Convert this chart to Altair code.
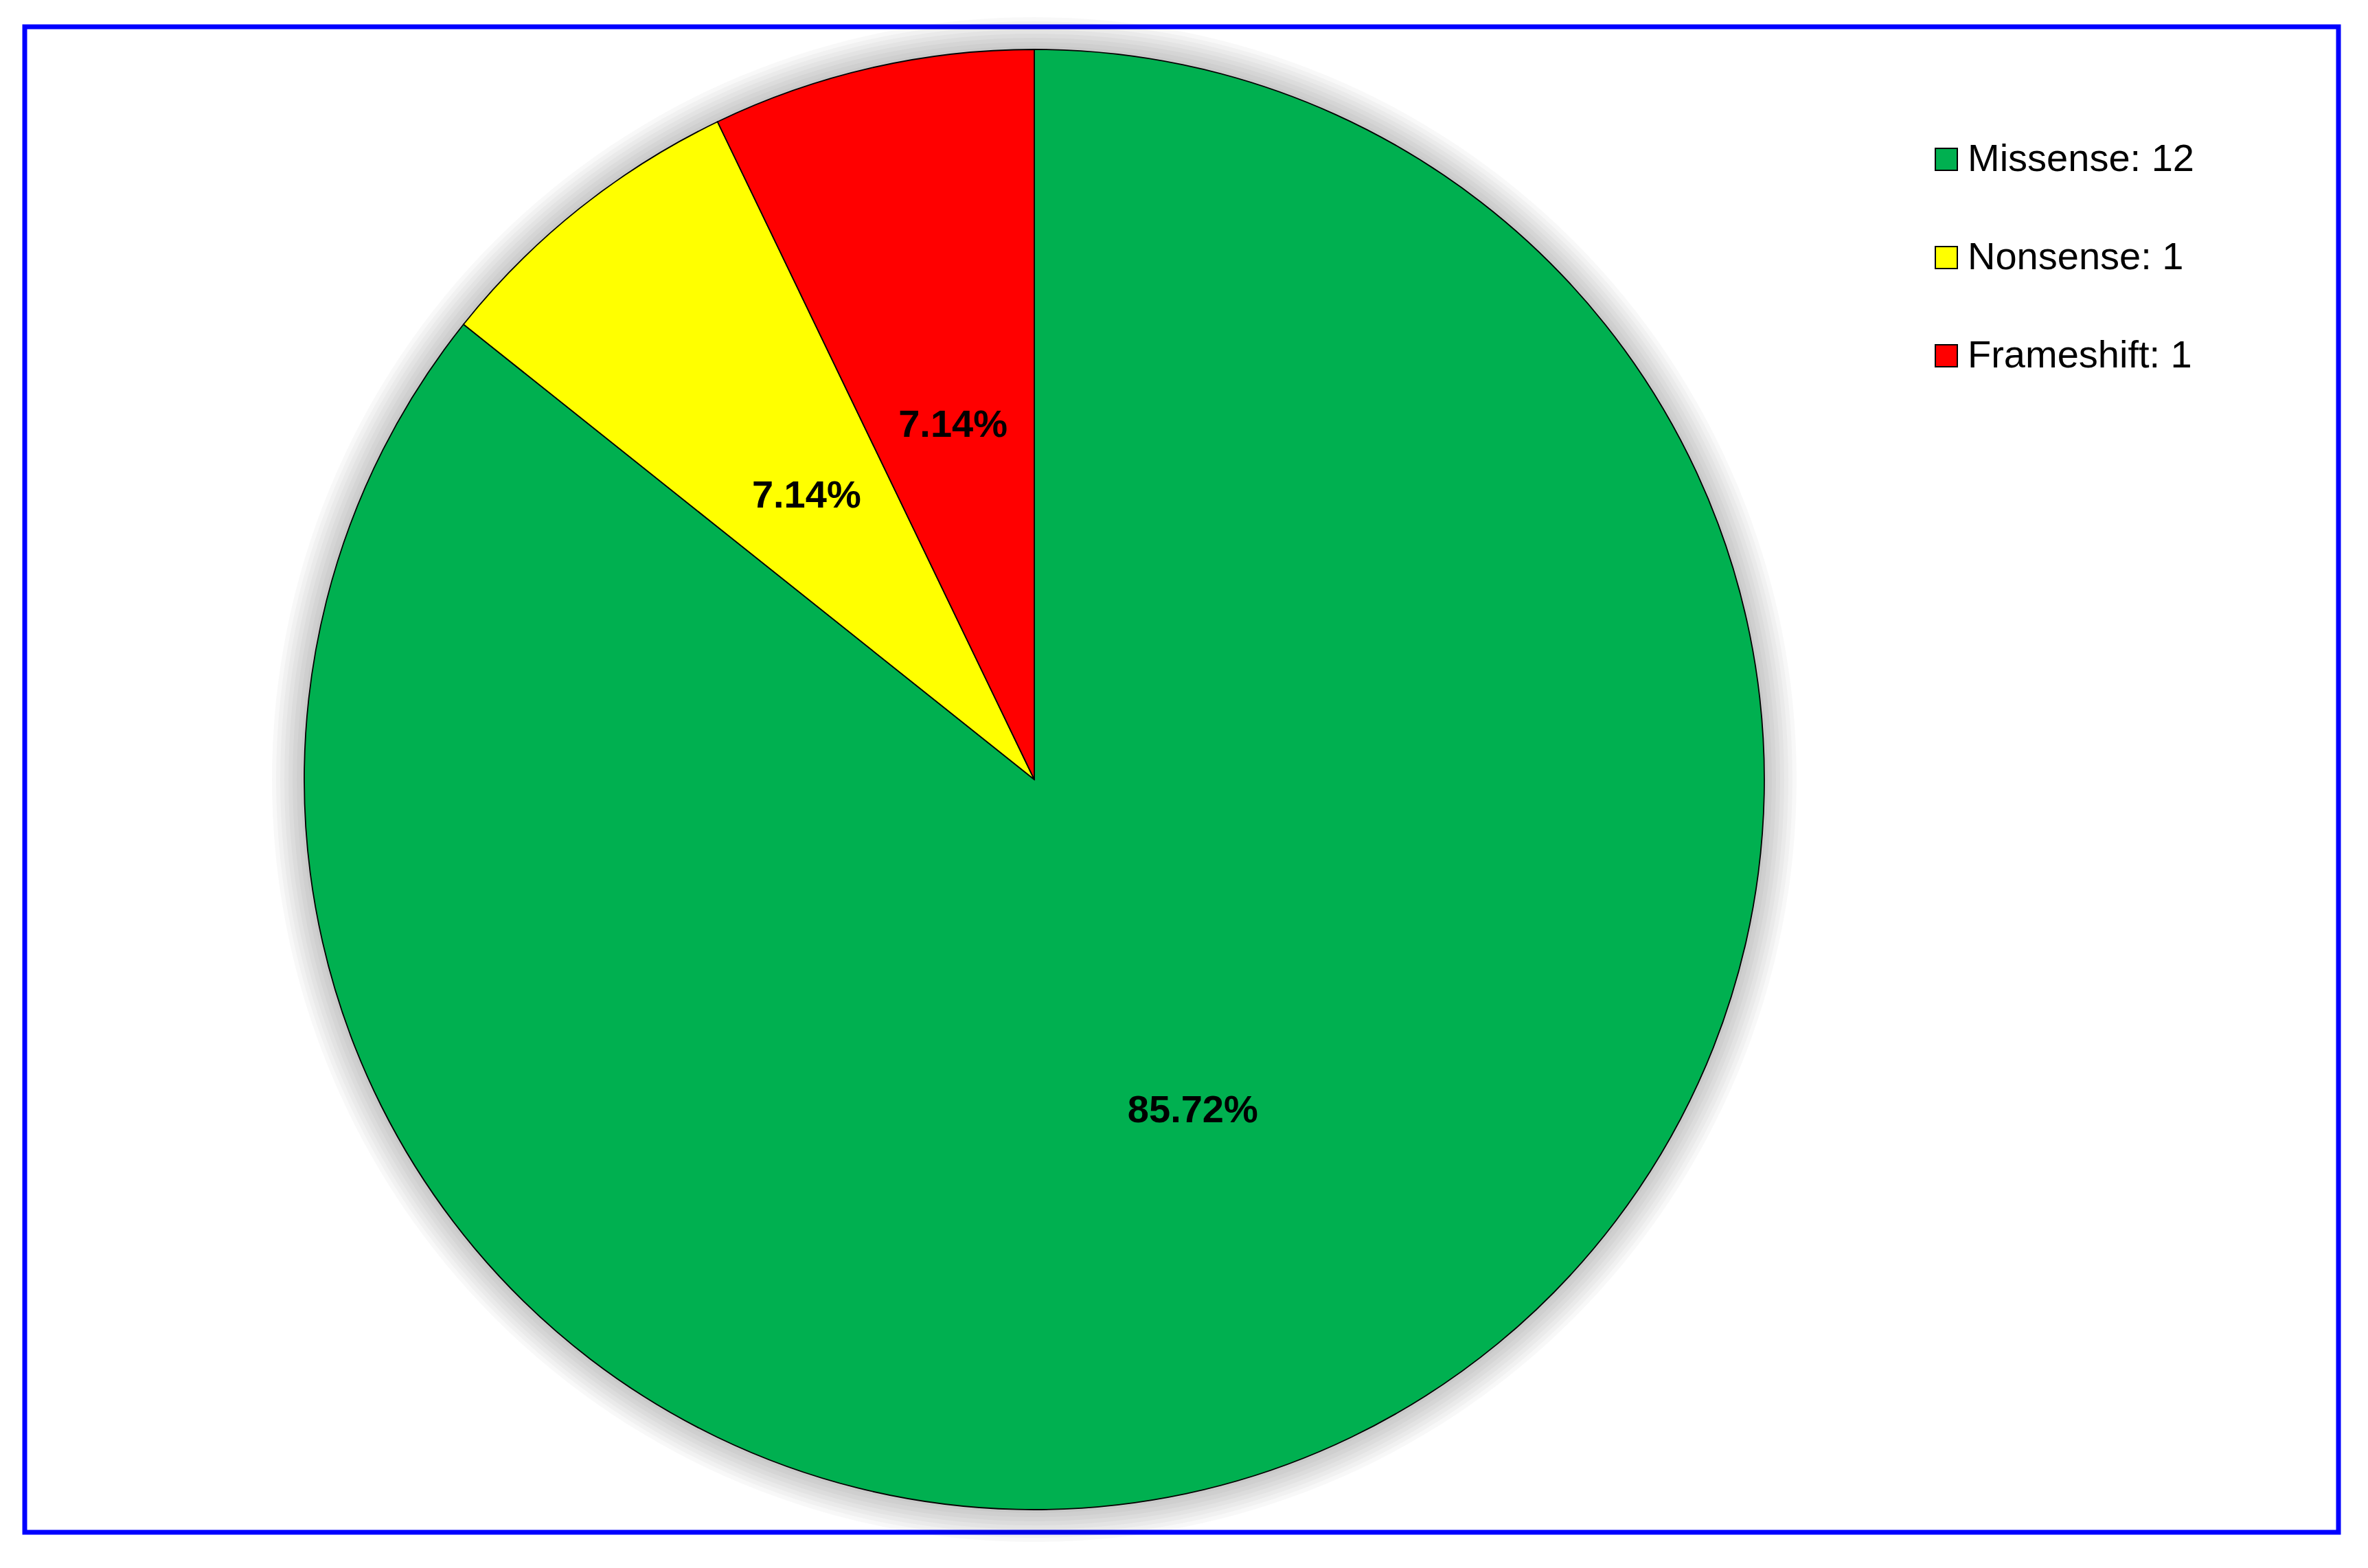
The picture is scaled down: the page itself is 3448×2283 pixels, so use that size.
import altair as alt
import pandas as pd

categories = ["Missense", "Nonsense", "Frameshift"]
counts = [12, 1, 1]
pct_labels = ["85.72%", "7.14%", "7.14%"]
legend_labels = ["Missense: 12", "Nonsense: 1", "Frameshift: 1"]
colors = ["#00B050", "#FFFF00", "#FF0000"]

df = pd.DataFrame({
    "category": categories,
    "count": counts,
    "pct": pct_labels,
    "legend": legend_labels,
    "order": list(range(len(categories))),
})

# soft drop-shadow rings (style only)
shadow_df = pd.DataFrame({"r": [1068, 1074, 1080, 1086, 1092, 1098, 1104, 1110],
                          "t0": [0.0] * 8, "t1": [6.2832] * 8})

CX, CY, R = 1470, 1096, 1063
FONT = "Liberation Sans"

shadow = alt.Chart(shadow_df).mark_arc(fill="#000000", fillOpacity=0.027, stroke=None).encode(
    theta=alt.Theta("t0:Q", scale=None),
    theta2="t1:Q",
    radius=alt.Radius("r:Q", scale=None),
    x=alt.value(CX), y=alt.value(CY),
)

pie = alt.Chart(df).mark_arc(radius=R, stroke="#000000", strokeWidth=1.8).encode(
    theta=alt.Theta("count:Q", stack=True),
    order=alt.Order("order:Q"),
    color=alt.Color(
        "legend:N",
        scale=alt.Scale(domain=legend_labels, range=colors),
        sort=legend_labels,
        legend=alt.Legend(
            title=None, orient="none", legendX=2770, legendY=165,
            symbolType="square", symbolSize=1024, symbolStrokeColor="#000000",
            symbolStrokeWidth=2, labelFont=FONT, labelFontSize=56, labelColor="#000000",
            labelOffset=3, rowPadding=87, labelLimit=1000,
        ),
    ),
    x=alt.value(CX), y=alt.value(CY),
)

text = alt.Chart(df).mark_text(radius=532, dy=3, font=FONT, fontSize=56, fontWeight="bold",
                               color="#000000").encode(
    theta=alt.Theta("count:Q", stack=True),
    order=alt.Order("order:Q"),
    text="pct:N",
    x=alt.value(CX), y=alt.value(CY),
)

chart = alt.layer(shadow, pie, text).properties(
    width=3369, height=2192,
    autosize=alt.AutoSizeParams(type="none"),
    padding={"left": 28, "top": 31, "right": 35, "bottom": 44},
    background="#FFFFFF",
).configure_view(stroke="#0000FF", strokeWidth=7)

chart.save("out.html", embed_options={"renderer": "svg", "actions": False})
